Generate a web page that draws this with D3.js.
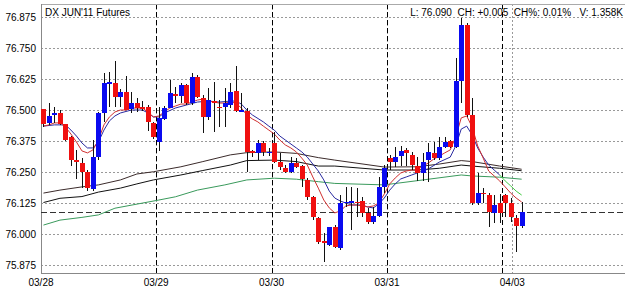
<!DOCTYPE html>
<html><head><meta charset="utf-8">
<script src="https://cdn.jsdelivr.net/npm/d3@7"></script>
<style>html,body{margin:0;padding:0;background:#fff;}svg{display:block;}</style>
</head><body>
<svg id="chart" width="625" height="291"></svg>
<script>
// ---------- data ----------
const title = "DX JUN'11 Futures";
const infoText = "L: 76.090  CH: +0.005  CH%: 0.01%   V: 1.358K";
const lastPrice = 76.090;
const yTicks = [75.875, 76.000, 76.125, 76.250, 76.375, 76.500, 76.625, 76.750, 76.875];
const xTickLabels = ["03/28", "03/29", "03/30", "03/31", "04/03"];
const xTickIndex = [-0.45, 20.5, 41.5, 62.5, 85.3];
const sessionBreaks = [20.5, 41.5, 62.5, 83.5];

const opens = [76.503,76.446,76.480,76.489,76.442,76.392,76.298,76.285,76.251,76.180,
 76.312,76.487,76.605,76.610,76.554,76.571,76.503,76.527,76.513,76.513,
 76.446,76.372,76.462,76.507,76.565,76.557,76.601,76.527,76.632,76.548,
 76.471,76.537,76.513,76.513,76.520,76.577,76.495,76.497,76.335,76.325,
 76.368,76.325,76.366,76.292,76.265,76.251,76.287,76.274,76.218,76.150,
 76.063,75.970,75.956,76.027,75.942,76.124,76.126,76.130,76.133,76.083,
 76.050,76.073,76.190,76.305,76.292,76.315,76.339,76.318,76.274,76.245,
 76.298,76.328,76.305,76.349,76.376,76.349,76.618,76.843,76.480,76.124,
 76.167,76.157,76.083,76.124,76.157,76.126,76.063,76.033];
const highs = [76.505,76.529,76.513,76.500,76.444,76.395,76.339,76.305,76.258,76.379,
 76.490,76.648,76.654,76.699,76.583,76.637,76.574,76.547,76.535,76.520,
 76.450,76.513,76.515,76.621,76.591,76.610,76.605,76.650,76.641,76.560,
 76.587,76.614,76.540,76.587,76.608,76.677,76.570,76.510,76.340,76.380,
 76.375,76.345,76.413,76.325,76.280,76.311,76.305,76.278,76.226,76.152,
 76.067,76.003,76.030,76.036,76.157,76.190,76.190,76.184,76.150,76.103,
 76.110,76.230,76.280,76.320,76.350,76.355,76.345,76.330,76.310,76.325,
 76.366,76.370,76.392,76.390,76.380,76.708,76.870,76.850,76.547,76.245,
 76.184,76.164,76.157,76.160,76.160,76.144,76.077,76.130];
const lows = [76.433,76.440,76.446,76.440,76.375,76.274,76.221,76.187,76.173,76.173,
 76.298,76.453,76.513,76.513,76.513,76.500,76.487,76.490,76.495,76.415,
 76.383,76.336,76.458,76.507,76.527,76.527,76.520,76.520,76.550,76.409,
 76.460,76.412,76.433,76.433,76.510,76.490,76.490,76.251,76.310,76.300,
 76.316,76.314,76.285,76.258,76.246,76.245,76.265,76.191,76.137,76.058,
 75.960,75.888,75.950,75.945,75.935,76.110,76.016,76.070,76.070,76.040,
 76.040,76.070,76.164,76.258,76.270,76.275,76.275,76.260,76.215,76.215,
 76.210,76.298,76.298,76.345,76.345,76.345,76.527,76.470,76.117,76.117,
 76.124,76.030,76.043,76.043,76.070,76.050,75.929,76.023];
const closes = [76.442,76.476,76.489,76.442,76.379,76.298,76.289,76.251,76.184,76.312,
 76.487,76.608,76.613,76.554,76.571,76.500,76.527,76.507,76.503,76.450,
 76.390,76.467,76.507,76.567,76.557,76.601,76.527,76.632,76.554,76.473,
 76.540,76.527,76.507,76.527,76.574,76.497,76.500,76.332,76.325,76.368,
 76.332,76.332,76.292,76.271,76.251,76.285,76.271,76.221,76.150,76.067,
 75.969,75.962,76.027,75.947,76.126,76.130,76.132,76.125,76.086,76.050,
 76.073,76.190,76.265,76.292,76.312,76.336,76.325,76.278,76.245,76.291,
 76.332,76.305,76.349,76.372,76.349,76.618,76.843,76.480,76.124,76.164,
 76.160,76.090,76.117,76.083,76.126,76.067,76.033,76.090];

// moving-average lines: [candle index, value]
const maFastRed = [[0,76.435],[1,76.440],[2,76.448],[3,76.448],[4,76.431],[5,76.403],[6,76.371],[7,76.335],[8,76.327],[9,76.339],
 [10,76.379],[11,76.440],[12,76.472],[13,76.492],[14,76.500],[15,76.500],[16,76.508],[17,76.508],[18,76.508],[19,76.492],
 [20,76.472],[21,76.476],[22,76.492],[23,76.508],[24,76.516],[25,76.524],[26,76.524],[27,76.532],[28,76.540],[29,76.544],
 [30,76.536],[31,76.532],[32,76.528],[33,76.528],[34,76.532],[35,76.528],[36,76.508],[37,76.480],[38,76.464],[39,76.452],
 [40,76.435],[41,76.419],[42,76.403],[43,76.379],[44,76.359],[45,76.347],[46,76.331],[47,76.306],[48,76.278],[49,76.230],
 [50,76.185],[51,76.137],[52,76.105],[53,76.085],[54,76.093],[55,76.113],[56,76.117],[57,76.117],[58,76.113],[59,76.109],
 [60,76.113],[61,76.125],[62,76.161],[63,76.202],[64,76.226],[65,76.246],[66,76.254],[67,76.258],[68,76.258],[69,76.274],
 [70,76.286],[71,76.302],[72,76.314],[73,76.327],[74,76.339],[75,76.391],[76,76.468],[77,76.476],[78,76.431],[79,76.355],
 [80,76.306],[81,76.254],[82,76.234],[83,76.214],[84,76.190],[85,76.165],[86,76.145],[87,76.129]];
const maBlue = [[0,76.435],[2,76.440],[4,76.440],[5,76.419],[6,76.395],[7,76.367],[8,76.347],[9,76.347],[10,76.371],[11,76.419],
 [12,76.456],[13,76.476],[14,76.488],[16,76.500],[18,76.500],[19,76.488],[20,76.472],[21,76.472],[22,76.488],[24,76.508],
 [26,76.520],[28,76.532],[30,76.536],[32,76.532],[34,76.536],[35,76.536],[36,76.524],[37,76.500],[38,76.480],[40,76.452],
 [41,76.435],[42,76.419],[43,76.395],[44,76.379],[46,76.347],[47,76.331],[48,76.310],[49,76.282],[50,76.254],[51,76.218],
 [52,76.173],[53,76.145],[54,76.133],[56,76.117],[58,76.117],[59,76.109],[60,76.105],[61,76.121],[62,76.145],[63,76.177],
 [64,76.202],[65,76.222],[66,76.230],[67,76.238],[68,76.246],[70,76.262],[72,76.290],[74,76.310],[75,76.355],[76,76.423],
 [77,76.435],[78,76.399],[79,76.347],[80,76.310],[81,76.278],[82,76.258],[83,76.238]];
const maLightGreen = [[83,76.238],[84,76.214],[85,76.194],[86,76.173],[87,76.157]];
const bandUpper = [[0,76.165],[3,76.177],[7,76.190],[10,76.198],[14,76.218],[17,76.242],[20,76.251],[25,76.271],[29,76.292],
 [34,76.319],[37,76.328],[42,76.331],[46,76.325],[50,76.308],[53,76.298],[62,76.270],[68,76.271],[72,76.282],[76,76.296],
 [78,76.292],[83,76.274],[87,76.261]];
const bandLower = [[0,76.127],[3,76.144],[7,76.151],[10,76.169],[14,76.185],[17,76.202],[20,76.218],[25,76.238],[29,76.256],
 [34,76.278],[37,76.296],[42,76.298],[46,76.292],[50,76.274],[53,76.274],[62,76.258],[68,76.258],[72,76.265],[76,76.278],
 [78,76.274],[83,76.265],[87,76.255]];
const maSlowGreen = [[0,76.036],[3,76.056],[7,76.067],[10,76.077],[13,76.104],[21,76.137],[24,76.150],[28,76.177],[33,76.198],
 [37,76.218],[42,76.225],[46,76.221],[50,76.211],[53,76.204],[62,76.198],[68,76.215],[76,76.238],[78,76.234],[83,76.229],[87,76.221]];

// ---------- layout ----------
const W = 625, H = 291;
const plotL = 41, plotR = 625, plotT = 4, plotB = 273;
const svg = d3.select("#chart");
const font = "'Liberation Sans', Arial, sans-serif";

const x = d3.scaleLinear().domain([-0.45, 105.8]).range([plotL, plotR]);
const y = d3.scaleLinear().domain([75.875, 76.875]).range([265, 17]);

// grid
const g = svg.append("g");
g.selectAll("line.hgrid").data(yTicks).join("line")
  .attr("x1", plotL).attr("x2", plotR)
  .attr("y1", d => Math.round(y(d)) + 0.5).attr("y2", d => Math.round(y(d)) + 0.5)
  .attr("stroke", "#999").attr("stroke-dasharray", "2,2");
g.selectAll("line.vgrid").data(xTickIndex.slice(1)).join("line")
  .attr("x1", d => Math.round(x(d)) + 0.5).attr("x2", d => Math.round(x(d)) + 0.5)
  .attr("y1", plotT).attr("y2", plotB)
  .attr("stroke", "#999").attr("stroke-dasharray", "2,2");
// session breaks
g.selectAll("line.sess").data(sessionBreaks).join("line")
  .attr("x1", d => Math.round(x(d)) + 0.5).attr("x2", d => Math.round(x(d)) + 0.5)
  .attr("y1", plotT).attr("y2", plotB)
  .attr("stroke", "#000").attr("stroke-dasharray", "5,3");

// frame
svg.append("line").attr("x1", plotL).attr("x2", plotR).attr("y1", plotT + 0.5).attr("y2", plotT + 0.5).attr("stroke", "#aaa");
svg.append("line").attr("x1", plotL + 0.5).attr("x2", plotL + 0.5).attr("y1", plotT).attr("y2", plotB).attr("stroke", "#888");
svg.append("line").attr("x1", plotL).attr("x2", plotR).attr("y1", plotB + 0.5).attr("y2", plotB + 0.5).attr("stroke", "#888");

// last price line
svg.append("line").attr("x1", plotL).attr("x2", plotR)
  .attr("y1", Math.round(y(lastPrice)) + 0.5).attr("y2", Math.round(y(lastPrice)) + 0.5)
  .attr("stroke", "#333").attr("stroke-dasharray", "6,3");

// lines
const line = d3.line().x(d => x(d[0])).y(d => y(d[1]));
const lines = [
  [maSlowGreen, "#3a9a5c"],
  [bandUpper, "#3b2b2b"],
  [bandLower, "#111"],
  [maBlue, "#2a2aa0"],
  [maLightGreen, "#44cc44"],
  [maFastRed, "#d03030"]
];
lines.forEach(([data, col]) => {
  svg.append("path").datum(data).attr("d", line)
    .attr("fill", "none").attr("stroke", col).attr("stroke-width", 1);
});

// candles
const candles = opens.map((o, i) => ({i, o, h: highs[i], l: lows[i], c: closes[i]}));
const cg = svg.append("g").attr("shape-rendering", "crispEdges");
cg.selectAll("line.wick").data(candles).join("line")
  .attr("x1", d => Math.round(x(d.i)) + 0.5).attr("x2", d => Math.round(x(d.i)) + 0.5)
  .attr("y1", d => y(d.h)).attr("y2", d => y(d.l))
  .attr("stroke", "#111");
cg.selectAll("rect.body").data(candles).join("rect")
  .attr("x", d => Math.round(x(d.i)) - 2).attr("width", 5)
  .attr("y", d => y(Math.max(d.o, d.c)))
  .attr("height", d => Math.max(1.5, Math.abs(y(d.o) - y(d.c))))
  .attr("fill", d => d.c >= d.o ? "#0a0af0" : "#f01010");

// axis labels
svg.selectAll("text.ylab").data(yTicks).join("text")
  .attr("x", 36).attr("y", d => y(d)).attr("dy", "0.35em")
  .attr("text-anchor", "end").attr("font-family", font).attr("font-size", 10)
  .attr("fill", "#000").text(d => d3.format(".3f")(d));
svg.selectAll("text.xlab").data(xTickLabels).join("text")
  .attr("x", (d, k) => k === 0 ? plotL : x(xTickIndex[k])).attr("y", 286)
  .attr("text-anchor", "middle").attr("font-family", font).attr("font-size", 10)
  .attr("fill", "#000").text(d => d);

// title and info
svg.append("text").attr("x", 45).attr("y", 16).attr("font-family", font).attr("font-size", 10)
  .attr("fill", "#000").text(title);
svg.append("text").attr("x", 623).attr("y", 16).attr("text-anchor", "end")
  .attr("font-family", font).attr("font-size", 10).attr("fill", "#000")
  .attr("xml:space", "preserve").style("white-space", "pre").text(infoText);
</script>
</body></html>
